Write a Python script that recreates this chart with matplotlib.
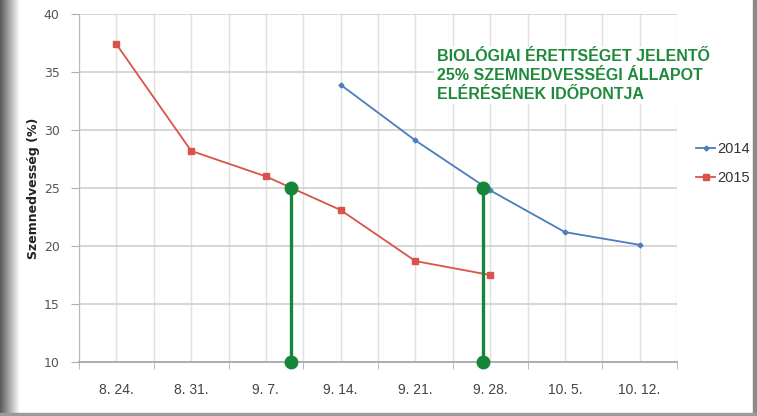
import numpy as np
import matplotlib.pyplot as plt
from matplotlib.ticker import MultipleLocator, FixedLocator

# adatok a grafikonrol
dates = ['8. 24.', '8. 31.', '9. 7.', '9. 14.', '9. 21.', '9. 28.', '10. 5.', '10. 12.']
moist_2014 = [None, None, None, 33.9, 29.1, 24.8, 21.2, 20.1]
moist_2015 = [37.4, 28.2, 26.0, 23.1, 18.7, 17.5, None, None]

# 25%-os szemnedvesseg elerese (kategoria-poziciok)
mature_pos = [2.34, 4.9]
mature_level = 25
y_floor = 10

sans = ['Liberation Sans', 'DejaVu Sans']

fig = plt.figure(figsize=(7.57, 4.16), dpi=100)

# szurke keret a kep szelein
bg = fig.add_axes([0, 0, 1, 1], zorder=-10)
bg.set_xlim(0, 757)
bg.set_ylim(416, 0)
bg.axis('off')
grad = np.linspace(0.35, 1.0, 64).reshape(1, -1)
bg.imshow(grad, extent=(0, 20, 416, 0), cmap='gray', vmin=0, vmax=1, aspect='auto')
bg.fill_between([753, 757], 0, 416, color='#8a8a8a')
bg.fill_between([0, 757], 413, 416, color='#9a9a9a')

ax = fig.add_axes([79 / 757, 1 - 362 / 416, 598 / 757, 348 / 416])
x = np.arange(len(dates))

def to_arr(vals):
    return np.array([np.nan if v is None else v for v in vals], dtype=float)

ax.plot(x, to_arr(moist_2014), color='#4a7ebb', lw=1.3, marker='D', ms=2.5,
        label='2014', zorder=3)
ax.plot(x, to_arr(moist_2015), color='#d9534a', lw=1.3, marker='s', ms=4.5,
        label='2015', zorder=3)

for p in mature_pos:
    ax.plot([p, p], [y_floor, mature_level], color='#16873a', lw=2.4,
            marker='o', ms=9, zorder=5, clip_on=False)

ax.set_xlim(-0.5, len(dates) - 0.5)
ax.set_ylim(10, 40)
ax.yaxis.set_major_locator(MultipleLocator(5))
ax.set_xticks(x)
ax.set_xticklabels(dates, family=sans, fontsize=10, color='#444444')
ax.xaxis.set_minor_locator(FixedLocator(np.arange(-0.5, len(dates), 1)))
ax.tick_params(axis='x', which='major', length=0, pad=15)
ax.tick_params(axis='x', which='minor', length=5, color='#b0b0b0', direction='out')
ax.tick_params(axis='y', length=6, color='#b0b0b0', labelsize=9,
               labelcolor='#555555', pad=8)
ax.grid(True, which='both', axis='x', color='#e0e0e0', lw=1)
ax.grid(True, which='major', axis='y', color='#d0d0d0', lw=1.2)
ax.set_axisbelow(True)
for s in ['top', 'right']:
    ax.spines[s].set_visible(False)
ax.spines['left'].set_color('#b8b8b8')
ax.spines['bottom'].set_color('#a8a8a8')
ax.spines['bottom'].set_linewidth(1.3)

ax.set_ylabel('Szemnedvesség (%)', fontsize=9, fontweight='bold', color='#222222',
              labelpad=3)

ax.text(4.29, 36.95,
        'BIOLÓGIAI ÉRETTSÉGET JELENTŐ\n25% SZEMNEDVESSÉGI ÁLLAPOT\nELÉRÉSÉNEK IDŐPONTJA',
        family=sans, fontsize=11.5, fontweight='bold', color='#1f8a3c',
        va='top', ha='left', linespacing=1.3, zorder=4,
        bbox=dict(facecolor='white', edgecolor='none', pad=2))

leg = ax.legend(loc='center left', bbox_to_anchor=(1.01, 0.57), frameon=False,
                handlelength=1.3, handletextpad=0.15, labelspacing=1.0,
                prop={'family': sans, 'size': 10.5})
for t in leg.get_texts():
    t.set_color('#333333')

fig.savefig('out.png', dpi=100)
